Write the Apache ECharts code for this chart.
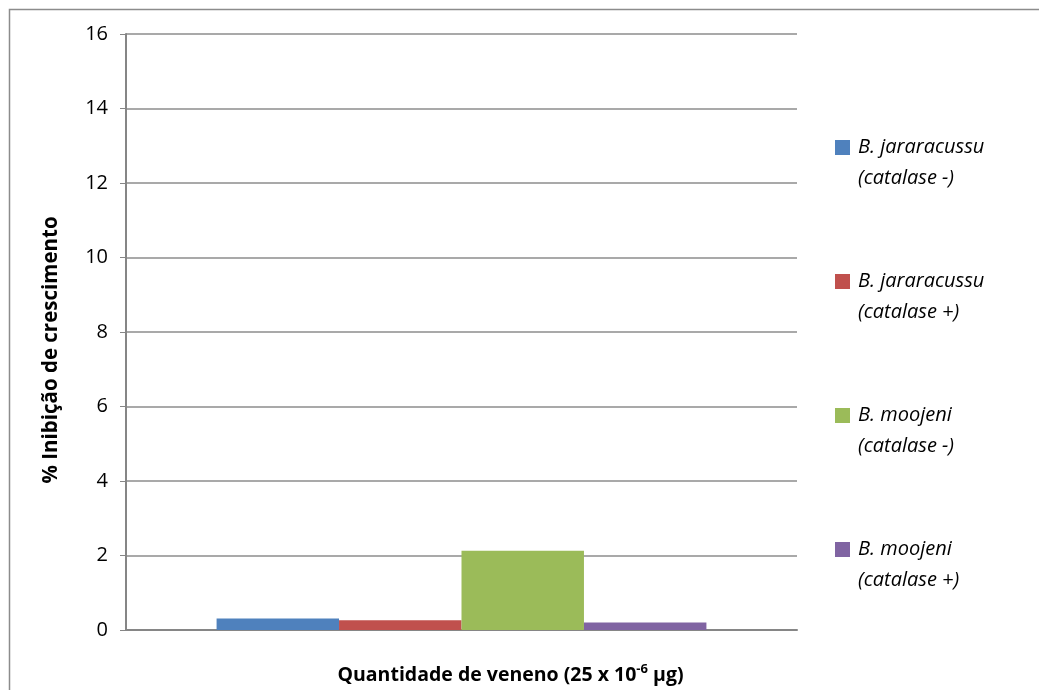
<!DOCTYPE html>
<head>
    <meta charset="utf-8">
    <script type="text/javascript" src="https://cdn.jsdelivr.net/npm/echarts@6/dist/echarts.min.js"></script>
</head>
<body style="margin:0">
	<div id="main" style="width:1039px; height:690px"></div>
	<script type="text/javascript">
		var categories = ['25'];
		var seriesNames = ['B. jararacussu\n(catalase -)', 'B. jararacussu\n(catalase +)', 'B. moojeni\n(catalase -)', 'B. moojeni\n(catalase +)'];
		var seriesValues = [[0.31], [0.26], [2.13], [0.2]];
		var colors = ['#4f81bd', '#c0504d', '#9bbb59', '#8064a2'];
		var yTicks = [0, 2, 4, 6, 8, 10, 12, 14, 16];

		var series = [];
		for (var i = 0; i < seriesNames.length; i++) {
			series.push({
				name: seriesNames[i],
				type: 'bar',
				data: seriesValues[i],
				barGap: '0%',
				barCategoryGap: '27%',
				itemStyle: {color: colors[i]}
			});
		}

		var myChart = echarts.init(document.getElementById('main'));
		var option = {
			animation: false,
			color: colors,
			grid: {left: 126, right: 242, top: 34, bottom: 60},
			graphic: [{
				type: 'rect',
				shape: {x: 9.5, y: 9.5, width: 1040, height: 700},
				style: {fill: null, stroke: '#8c8c8c', lineWidth: 1.5}
			}],
			legend: {
				orient: 'vertical',
				left: 830,
				top: 96,
				itemWidth: 15,
				itemHeight: 15,
				itemGap: 41,
				icon: 'rect',
				formatter: function (name) { return '\n' + name; },
				textStyle: {
					fontFamily: 'Open Sans',
					fontStyle: 'italic',
					fontSize: 20,
					lineHeight: 31,
					color: '#000',
					letterSpacing: -0.3,
					padding: [0, 0, 0, 3]
				}
			},
			xAxis: {
				type: 'category',
				data: categories,
				name: '{a|Quantidade de veneno (25 x 10}{s|-6}{a| µg)}',
				nameLocation: 'middle',
				nameGap: 33,
				nameTextStyle: {
					padding: [0, 0, 0, 98],
					rich: {
						a: {fontFamily: 'Open Sans', fontWeight: 'bold', fontSize: 19.5, color: '#000'},
						s: {fontFamily: 'Open Sans', fontWeight: 'bold', fontSize: 13, color: '#000', verticalAlign: 'bottom', padding: [0, 0, 11, 0]}
					}
				},
				axisLine: {lineStyle: {color: '#868686', width: 2}},
				axisTick: {show: false},
				axisLabel: {show: false}
			},
			yAxis: {
				type: 'value',
				min: yTicks[0],
				max: yTicks[yTicks.length - 1],
				interval: 2,
				name: '% Inibição de crescimento',
				nameLocation: 'middle',
				nameGap: 64,
				nameTextStyle: {fontFamily: 'Open Sans', fontWeight: 'bold', fontSize: 20.5, color: '#000', padding: [0, 36, 0, 0]},
				axisLine: {show: true, lineStyle: {color: '#868686', width: 2}},
				axisTick: {show: true, length: 6, lineStyle: {color: '#868686'}},
				axisLabel: {fontFamily: 'Open Sans', fontSize: 20, color: '#000', margin: 18},
				splitLine: {lineStyle: {color: '#8c8c8c', width: 1.5}}
			},
			series: series
		};

		myChart.setOption(option);
	</script>
</body>
